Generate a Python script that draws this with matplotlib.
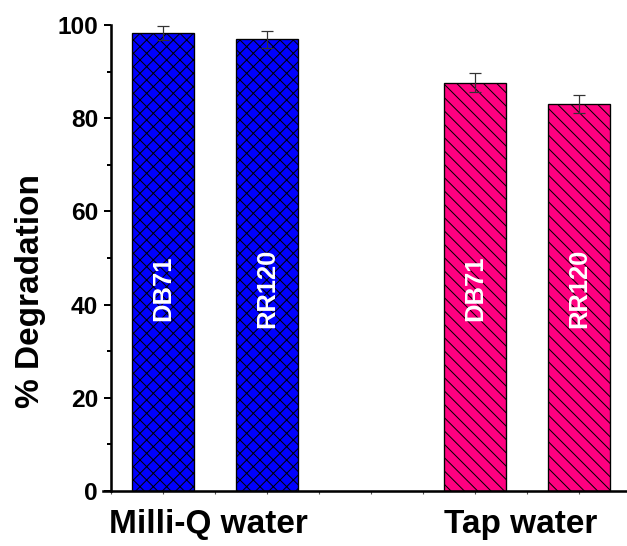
import matplotlib
matplotlib.use("Agg")
import matplotlib.pyplot as plt
import matplotlib.transforms as mtransforms
from matplotlib.ticker import MultipleLocator

plt.rcParams['font.family'] = ['Liberation Sans', 'DejaVu Sans']
plt.rcParams['font.weight'] = 'bold'
plt.rcParams['hatch.linewidth'] = 0.9

# degradation of two dyes in two water matrices
groups = ['Milli-Q water', 'Tap water']
group_pos = [2, 8]
dyes = ['DB71', 'RR120', 'DB71', 'RR120']
bar_pos = [1, 3, 7, 9]
degradation = [98.3, 96.9, 87.6, 83.1]
errors = [1.5, 1.8, 2.0, 1.9]
colors = ['#0000FF', '#0000FF', '#FF0080', '#FF0080']
hatches = ['xx', 'xx', '\\\\', '\\\\']

fig = plt.figure(figsize=(627 / 80, 546 / 80), dpi=80)
ax = fig.add_axes([0.1643, 0.1007, 0.8357, 0.8535])

bars = ax.bar(bar_pos, degradation, width=1.2, color=colors,
              edgecolor='black', linewidth=1.2, zorder=2)
for b, h in zip(bars, hatches):
    b.set_hatch(h)

ax.errorbar(bar_pos, degradation, yerr=errors, fmt='none', ecolor='#333333',
            elinewidth=1.1, capsize=5, capthick=1.1, zorder=3, clip_on=False)

# dye names written inside the bars
for x, name in zip(bar_pos, dyes):
    ax.text(x, 43.5, name, rotation=90, ha='center', va='center',
            color='white', fontsize=23, fontweight='bold', zorder=4)

ax.set_xlim(-0.15, 9.92)
ax.set_ylim(0, 100)

ax.spines['top'].set_visible(False)
ax.spines['right'].set_visible(False)
ax.spines['left'].set_position(('data', 0))
ax.spines['left'].set_linewidth(2.3)
ax.spines['bottom'].set_linewidth(2.3)

ax.yaxis.set_major_locator(MultipleLocator(20))
ax.yaxis.set_minor_locator(MultipleLocator(10))
ax.tick_params(axis='y', which='major', length=6.5, width=1.8, labelsize=22, pad=5)
ax.tick_params(axis='y', which='minor', length=4, width=1.8)

ax.set_xticks([])
ax.xaxis.set_minor_locator(MultipleLocator(1))
ax.tick_params(axis='x', which='minor', direction='out', length=2.5,
               width=1, color='#555555')

for lab in ax.get_yticklabels():
    lab.set_fontweight('bold')

ax.set_ylabel('% Degradation', fontsize=30, fontweight='bold')
ax.yaxis.set_label_coords(-0.108, 0.43)

# group names under the axis
trans = mtransforms.blended_transform_factory(ax.transData, ax.transAxes)
for x, g in zip(group_pos, groups):
    ax.text(x - 0.12, -0.09, g, transform=trans, ha='center', va='baseline',
            fontsize=30, fontweight='bold')

fig.savefig('out.png', dpi=80)
